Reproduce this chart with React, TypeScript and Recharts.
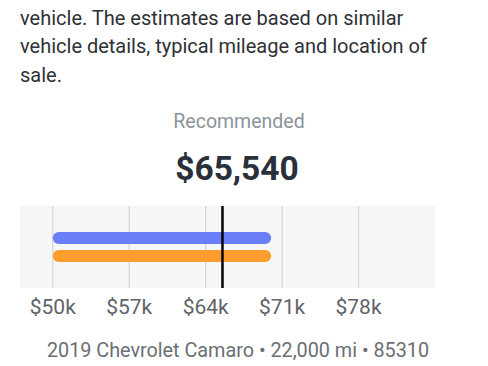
import React from 'react';
import { BarChart, Bar, XAxis, YAxis, CartesianGrid, ReferenceLine } from 'recharts';

const categories = ['Price range'];
const blueRange = [50000, 70000];
const orangeRange = [50000, 70000];
const recommendedValue = 65540;
const xTicks = [50000, 57000, 64000, 71000, 78000];
const xDomain = [47000, 85000];
const paragraphLines = [
  'vehicle. The estimates are based on similar',
  'vehicle details, typical mileage and location of',
  'sale.',
];
const caption = '2019 Chevrolet Camaro • 22,000 mi • 85310';

const data = categories.map((name) => ({ name, blue: blueRange, orange: orangeRange }));

const fmtTick = (v: number) => `$${Math.round(v / 1000)}k`;
const fmtPrice = (v: number) => `$${v.toLocaleString('en-US')}`;

export default function App() {
  return (
    <div
      style={{
        position: 'absolute',
        left: 0,
        top: 0,
        width: 488,
        height: 366,
        background: '#ffffff',
        fontFamily: 'Roboto, sans-serif',
        overflow: 'hidden',
      }}
    >
      <div style={{ position: 'absolute', left: 20, top: 4, fontSize: 20, lineHeight: '28.3px', color: '#2e3135' }}>
        {paragraphLines.map((l, i) => (
          <div key={i}>{l}</div>
        ))}
      </div>
      <div
        style={{
          position: 'absolute',
          left: 0,
          width: 478,
          top: 110,
          textAlign: 'center',
          fontSize: 19.5,
          color: '#8c939b',
        }}
      >
        Recommended
      </div>
      <div
        style={{
          position: 'absolute',
          left: 0,
          width: 474,
          top: 149,
          textAlign: 'center',
          fontSize: 33.5,
          fontWeight: 700,
          color: '#29303a',
        }}
      >
        {fmtPrice(recommendedValue)}
      </div>
      <div style={{ position: 'absolute', left: 0, top: 190 }}>
        <BarChart
          width={488}
          height={140}
          data={data}
          layout="vertical"
          margin={{ top: 16, right: 53, left: 20, bottom: 10 }}
          barSize={12}
          barGap={6}
        >
          <CartesianGrid
            horizontal={false}
            vertical={true}
            fill="#f6f6f6"
            stroke="#d4d4d4"
            strokeWidth={1.2}
            syncWithTicks={true}
          />
          <XAxis
            type="number"
            domain={xDomain}
            ticks={xTicks}
            tickFormatter={fmtTick}
            axisLine={false}
            tickLine={false}
            tickSize={0}
            tickMargin={11}
            height={32}
            tick={{ fill: '#5f6368', fontSize: 21, fontFamily: 'Roboto' }}
            interval={0}
          />
          <YAxis type="category" dataKey="name" hide />
          <Bar dataKey="blue" fill="#6a7ef8" radius={6} isAnimationActive={false} />
          <Bar dataKey="orange" fill="#fe9d2e" radius={6} isAnimationActive={false} />
          <ReferenceLine x={recommendedValue} stroke="#000000" strokeWidth={2.5} />
        </BarChart>
      </div>
      <div
        style={{
          position: 'absolute',
          left: 0,
          width: 476,
          top: 339,
          textAlign: 'center',
          fontSize: 19.8,
          color: '#6b6f74',
        }}
      >
        {caption}
      </div>
    </div>
  );
}
